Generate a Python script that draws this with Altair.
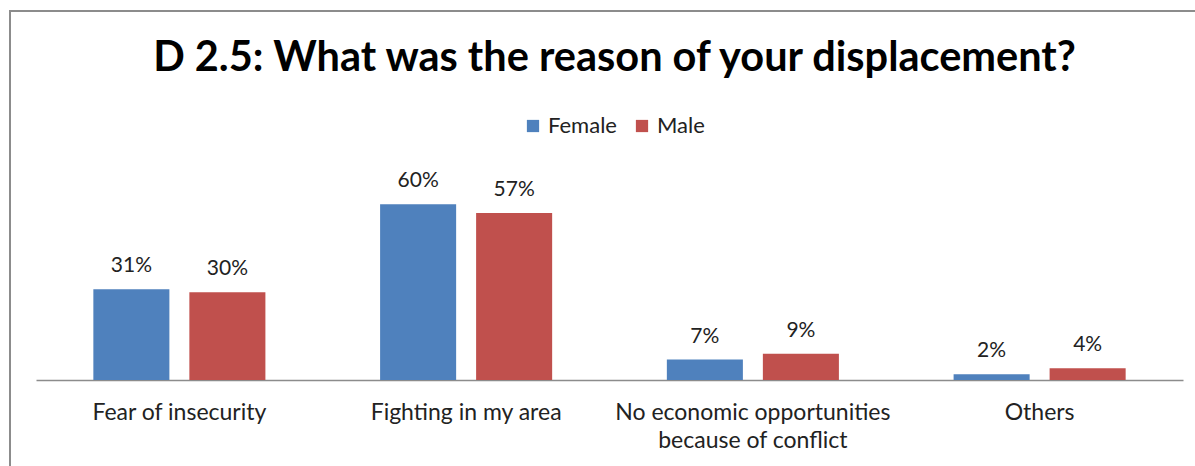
import altair as alt
import pandas as pd

categories = ["Fear of insecurity", "Fighting in my area",
              "No economic opportunities\nbecause of conflict", "Others"]
female = [31, 60, 7, 2]
male = [30, 57, 9, 4]
series = ["Female", "Male"]
colors = ["#4F81BD", "#C0504D"]

rows = []
for c, f, m in zip(categories, female, male):
    rows.append({"cat": c, "sex": "Female", "val": f, "lab": f"{f}%"})
    rows.append({"cat": c, "sex": "Male", "val": m, "lab": f"{m}%"})
df = pd.DataFrame(rows)

FONT = "Lato"

x = alt.X("cat:N", sort=categories, title=None,
          scale=alt.Scale(paddingInner=0.4, paddingOuter=0.2),
          axis=alt.Axis(labelAngle=0, ticks=False, domainColor="#8c8c8c", domainWidth=1.5,
                        labelFont=FONT, labelFontSize=23, labelColor="#222222",
                        labelPadding=21, labelLineHeight=28, labelLimit=500,
                        labelExpr="split(datum.label, '\\n')"))
xo = alt.XOffset("sex:N", sort=series, scale=alt.Scale(paddingInner=0.208, paddingOuter=0))
y = alt.Y("val:Q", scale=alt.Scale(domain=[0, 70]), axis=None)

base = alt.Chart(df)
bars = base.mark_bar().encode(
    x=x, xOffset=xo, y=y,
    color=alt.Color("sex:N", sort=series, scale=alt.Scale(domain=series, range=colors),
                    legend=alt.Legend(title=None, orient="none", direction="horizontal",
                                      legendX=486, legendY=-60, symbolType="square",
                                      symbolSize=150, symbolStrokeWidth=0,
                                      labelFont=FONT, labelFontSize=22, labelColor="#222222",
                                      columnPadding=14, labelOffset=4)),
)
text = base.mark_text(dy=-17, baseline="alphabetic", font=FONT, fontSize=21, color="#222222").encode(
    x=x, xOffset=xo, y=y, text="lab:N")

frame_df = pd.DataFrame({"a": [0]})
top_rule = alt.Chart(frame_df).mark_rule(color="#8c8c8c", strokeWidth=2).encode(
    x=alt.value(-27), x2=alt.value(1200), y=alt.value(-164))
left_rule = alt.Chart(frame_df).mark_rule(color="#8c8c8c", strokeWidth=2).encode(
    x=alt.value(-26), y=alt.value(-164), y2=alt.value(400))

chart = alt.layer(bars, text, top_rule, left_rule).properties(
    width=1147, height=205,
    background="white",
    autosize=alt.AutoSizeParams(type="none"),
    padding={"left": 36, "top": 175, "right": 12, "bottom": 86},
    title=alt.Title("D 2.5: What was the reason of your displacement?",
                    font=FONT, fontSize=41.5, fontWeight="bold", color="#000000",
                    anchor="middle", offset=-69, dx=5),
).configure_view(stroke=None)

chart.save("out.html", embed_options={"renderer": "svg", "actions": False})
